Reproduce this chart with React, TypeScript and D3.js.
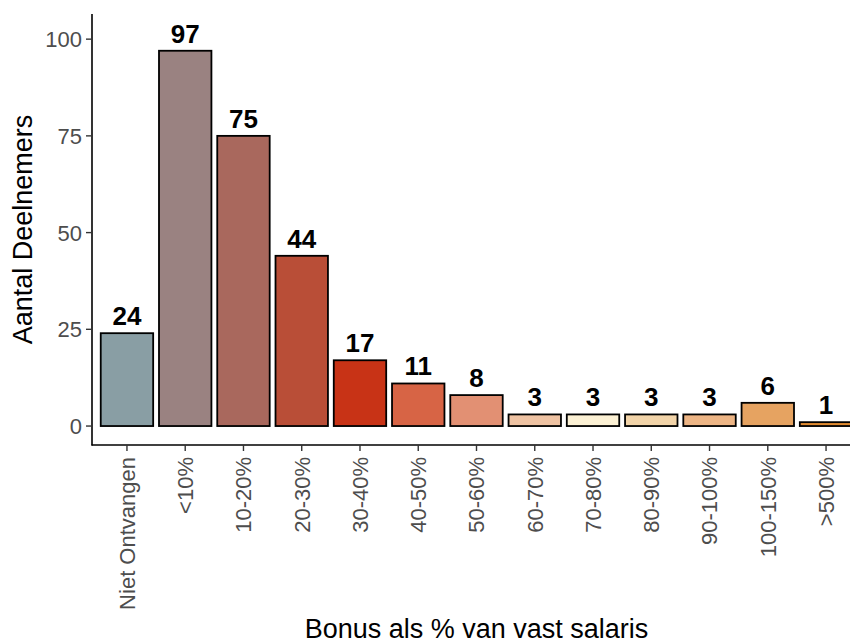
import React, { useEffect, useRef } from "react";
import * as d3 from "d3";

const categories = [
  "Niet Ontvangen", "<10%", "10-20%", "20-30%", "30-40%", "40-50%", "50-60%",
  "60-70%", "70-80%", "80-90%", "90-100%", "100-150%", ">500%",
];
const counts = [24, 97, 75, 44, 17, 11, 8, 3, 3, 3, 3, 6, 1];
const barColors = [
  "#899EA4", "#9A8281", "#A9685D", "#B94E37", "#C83316", "#D76445", "#E29073",
  "#EFC3A3", "#FCF1D4", "#F2D4A9", "#EDB585", "#E6A361", "#E08A30",
];
const yTicks = [0, 25, 50, 75, 100];

const W = 850;
const H = 644;
const FONT = "Liberation Sans, Arial, sans-serif";

export default function App() {
  const ref = useRef<SVGSVGElement | null>(null);

  useEffect(() => {
    document.body.style.margin = "0";
    const svg = d3.select(ref.current);
    svg.selectAll("*").remove();

    const left = 92, right = 861, top = 14, bottom = 445;
    const x = d3.scaleBand<string>().domain(categories).range([left, right]).paddingInner(0.1).paddingOuter(0.15);
    const y = d3.scaleLinear().domain([-4.9, 106.5]).range([bottom, top]);

    svg.append("defs").append("clipPath").attr("id", "clipP")
      .append("rect").attr("x", 0).attr("y", 0).attr("width", W).attr("height", H);

    const g = svg.append("g").attr("clip-path", "url(#clipP)");

    // bars
    g.selectAll("rect.bar").data(categories).enter().append("rect")
      .attr("class", "bar")
      .attr("x", (d) => x(d)!)
      .attr("width", x.bandwidth())
      .attr("y", (_, i) => y(counts[i]))
      .attr("height", (_, i) => y(0) - y(counts[i]))
      .attr("fill", (_, i) => barColors[i])
      .attr("stroke", "#000")
      .attr("stroke-width", 1.8);

    // value labels
    g.selectAll("text.val").data(categories).enter().append("text")
      .attr("class", "val")
      .attr("x", (d) => x(d)! + x.bandwidth() / 2)
      .attr("y", (_, i) => y(counts[i]) - 8)
      .attr("text-anchor", "middle")
      .attr("font-family", FONT)
      .attr("font-weight", "bold")
      .attr("font-size", 26)
      .attr("fill", "#000")
      .text((_, i) => String(counts[i]));

    // axes lines
    g.append("line").attr("x1", left).attr("x2", left).attr("y1", top).attr("y2", bottom + 0.5)
      .attr("stroke", "#000").attr("stroke-width", 1.6);
    g.append("line").attr("x1", left - 0.5).attr("x2", right).attr("y1", bottom).attr("y2", bottom)
      .attr("stroke", "#000").attr("stroke-width", 1.6);

    // y ticks
    yTicks.forEach((t) => {
      g.append("line").attr("x1", left - 6).attr("x2", left).attr("y1", y(t)).attr("y2", y(t))
        .attr("stroke", "#333").attr("stroke-width", 1.4);
      g.append("text").attr("x", left - 10).attr("y", y(t)).attr("dy", "0.36em")
        .attr("text-anchor", "end").attr("font-family", FONT).attr("font-size", 22)
        .attr("fill", "#4D4D4D").text(String(t));
    });

    // x ticks
    categories.forEach((c) => {
      const cx = x(c)! + x.bandwidth() / 2;
      g.append("line").attr("x1", cx).attr("x2", cx).attr("y1", bottom).attr("y2", bottom + 6)
        .attr("stroke", "#333").attr("stroke-width", 1.4);
      g.append("text")
        .attr("transform", `translate(${cx},${bottom + 12}) rotate(-90)`)
        .attr("dy", "0.36em")
        .attr("text-anchor", "end").attr("font-family", FONT).attr("font-size", 22)
        .attr("fill", "#4D4D4D").text(c);
    });

    // axis titles
    g.append("text").attr("x", (left + right) / 2).attr("y", 638)
      .attr("text-anchor", "middle").attr("font-family", FONT).attr("font-size", 27)
      .attr("fill", "#000").text("Bonus als % van vast salaris");
    g.append("text")
      .attr("transform", `translate(32,${(top + bottom) / 2}) rotate(-90)`)
      .attr("text-anchor", "middle").attr("font-family", FONT).attr("font-size", 27)
      .attr("fill", "#000").text("Aantal Deelnemers");
  }, []);

  return <svg ref={ref} width={W} height={H} style={{ display: "block", background: "#fff" }} />;
}
